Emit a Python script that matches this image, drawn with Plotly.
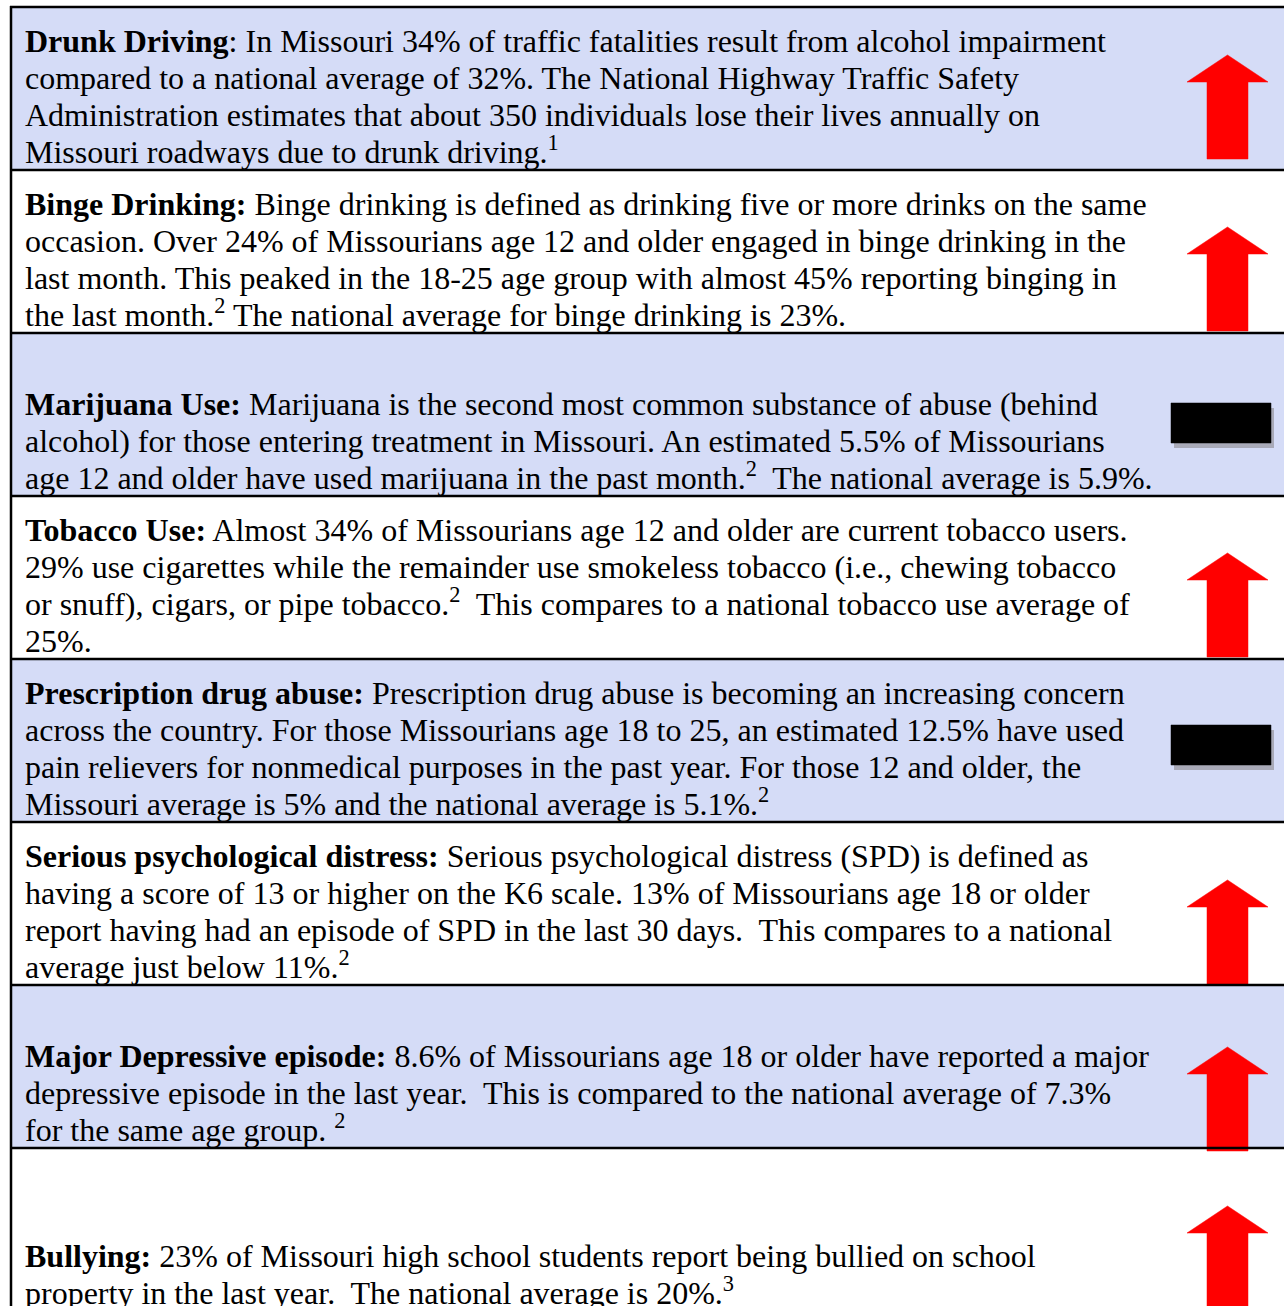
import plotly.graph_objects as go

# ---------------- data ----------------
topics = [
    "Drunk Driving", "Binge Drinking", "Marijuana Use", "Tobacco Use",
    "Prescription drug abuse", "Serious psychological distress",
    "Major Depressive episode", "Bullying",
]
topic_suffix = [":", ":", ":", ":", ":", ":", ":", ":"]
bold_colon = [False, True, True, True, True, True, True, True]
descriptions = [
    [" In Missouri 34% of traffic fatalities result from alcohol impairment",
     "compared to a national average of 32%. The National Highway Traffic Safety",
     "Administration estimates that about 350 individuals lose their lives annually on",
     "Missouri roadways due to drunk driving.<sup>1</sup>"],
    [" Binge drinking is defined as drinking five or more drinks on the same",
     "occasion. Over 24% of Missourians age 12 and older engaged in binge drinking in the",
     "last month. This peaked in the 18-25 age group with almost 45% reporting binging in",
     "the last month.<sup>2</sup> The national average for binge drinking is 23%."],
    [" Marijuana is the second most common substance of abuse (behind",
     "alcohol) for those entering treatment in Missouri. An estimated 5.5% of Missourians",
     "age 12 and older have used marijuana in the past month.<sup>2</sup>  The national average is 5.9%."],
    [" Almost 34% of Missourians age 12 and older are current tobacco users.",
     "29% use cigarettes while the remainder use smokeless tobacco (i.e., chewing tobacco",
     "or snuff), cigars, or pipe tobacco.<sup>2</sup>  This compares to a national tobacco use average of",
     "25%."],
    [" Prescription drug abuse is becoming an increasing concern",
     "across the country. For those Missourians age 18 to 25, an estimated 12.5% have used",
     "pain relievers for nonmedical purposes in the past year. For those 12 and older, the",
     "Missouri average is 5% and the national average is 5.1%.<sup>2</sup>"],
    [" Serious psychological distress (SPD) is defined as",
     "having a score of 13 or higher on the K6 scale. 13% of Missourians age 18 or older",
     "report having had an episode of SPD in the last 30 days.  This compares to a national",
     "average just below 11%.<sup>2</sup>"],
    [" 8.6% of Missourians age 18 or older have reported a major",
     "depressive episode in the last year.  This is compared to the national average of 7.3%",
     "for the same age group. <sup>2</sup>"],
    [" 23% of Missouri high school students report being bullied on school",
     "property in the last year.  The national average is 20%.<sup>3</sup>"],
]
trends = ["up", "up", "same", "up", "same", "up", "up", "up"]

# ---------------- style / layout ----------------
W, H = 1284, 1306
TABLE_TOP = 7
ROW_H = 163
LEFT = 11
TEXT_X = 24
LINE_H = 37
FONT = "Liberation Serif, Times New Roman, serif"
FS = 32
SHADE = "#D5DCF7"
icon_offsets = [48, 57, 70, 57, 66, 58, 62, 58]


def to_paper(yv):
    return (H - yv) / H


fig = go.Figure()
shapes = []
annotations = []

n_rows = len(topics)
for i in range(n_rows):
    top = TABLE_TOP + i * ROW_H
    bottom = top + ROW_H
    if i % 2 == 0:
        shapes.append(dict(type="rect", xref="x", yref="y", x0=LEFT, x1=W + 20,
                           y0=top, y1=bottom, fillcolor=SHADE, line_width=0,
                           layer="below"))
    lines = descriptions[i]
    n = len(lines)
    for k, ln in enumerate(lines):
        baseline = bottom - 11 - (n - 1 - k) * LINE_H
        if k == 0:
            if bold_colon[i]:
                txt = "<b>" + topics[i] + topic_suffix[i] + "</b>" + ln
            else:
                txt = "<b>" + topics[i] + "</b>" + topic_suffix[i] + ln
        else:
            txt = ln
        annotations.append(dict(x=TEXT_X, y=to_paper(baseline + 12), xref="x",
                                yref="paper", text=txt, showarrow=False,
                                xanchor="left", yanchor="bottom", align="left",
                                font=dict(family=FONT, size=FS, color="black"),
                                borderpad=0))
    off = top + icon_offsets[i]
    if trends[i] == "up":
        xs = [1227.5, 1268, 1248, 1248, 1207, 1207, 1187, 1227.5]
        ys = [off, off + 27, off + 27, off + 104, off + 104, off + 27, off + 27, off]
        fig.add_trace(go.Scatter(x=xs, y=ys, fill="toself", fillcolor="#FF0000",
                                 mode="lines", line=dict(color="#FF0000", width=0.5),
                                 hoverinfo="skip", showlegend=False))
    else:
        sx = [1174, 1274, 1274, 1174, 1174]
        sy = [off + 5, off + 5, off + 45, off + 45, off + 5]
        fig.add_trace(go.Scatter(x=sx, y=sy, fill="toself", fillcolor="#A9AAB8",
                                 mode="lines", line=dict(color="#A9AAB8", width=0),
                                 hoverinfo="skip", showlegend=False))
        bx = [1171, 1271, 1271, 1171, 1171]
        by = [off, off, off + 40, off + 40, off]
        fig.add_trace(go.Scatter(x=bx, y=by, fill="toself", fillcolor="#000000",
                                 mode="lines", line=dict(color="#000000", width=0.5),
                                 hoverinfo="skip", showlegend=False))

for i in range(n_rows + 1):
    yb = TABLE_TOP + i * ROW_H
    shapes.append(dict(type="line", xref="x", yref="y", x0=LEFT - 1, x1=W + 20,
                       y0=yb, y1=yb, line=dict(color="black", width=2.5),
                       layer="above"))
shapes.append(dict(type="line", xref="x", yref="y", x0=LEFT, x1=LEFT,
                   y0=TABLE_TOP - 1, y1=H + 20, line=dict(color="black", width=2.5),
                   layer="above"))

fig.update_layout(
    width=W, height=H,
    margin=dict(l=0, r=0, t=0, b=0),
    paper_bgcolor="white", plot_bgcolor="white",
    xaxis=dict(range=[0, W], visible=False, fixedrange=True),
    yaxis=dict(range=[H, 0], visible=False, fixedrange=True),
    shapes=shapes, annotations=annotations, showlegend=False,
)

fig.write_html(
    "out.html",
    config={"displayModeBar": False},
    post_script="document.body.style.margin='0';document.body.style.overflow='hidden';",
)
